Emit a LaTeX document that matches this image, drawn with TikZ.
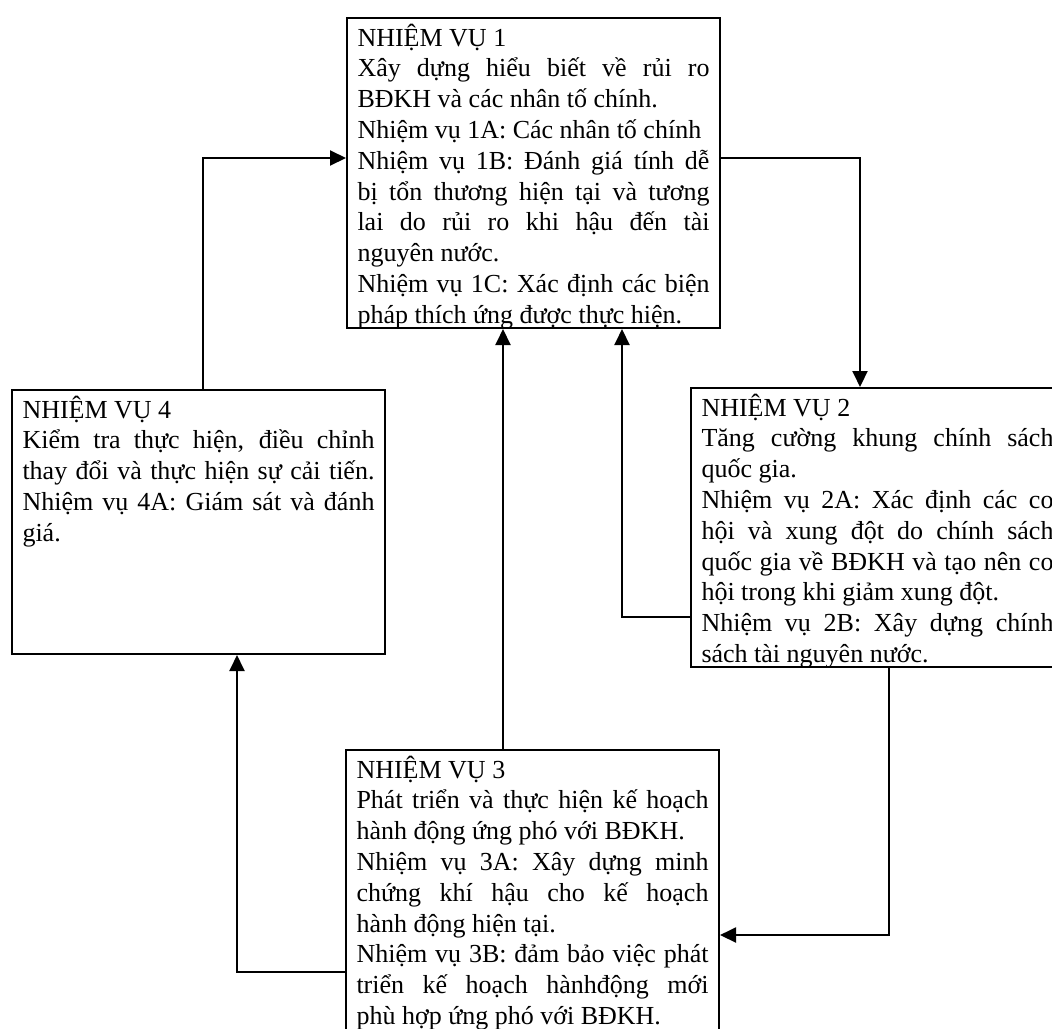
\documentclass[tikz,border=0pt]{standalone}
\usepackage{fontspec}
\setmainfont{Liberation Serif}
\usetikzlibrary{arrows.meta}
% one justified line / one natural-width line of a task box
\newcommand\fullln[1]{\hbox to\hsize{#1}}
\newcommand\lastln[1]{\hbox{#1}}
\newcommand\taskbody[1]{\parbox[t]{176pt}{\fontsize{13pt}{15.4pt}\selectfont #1}}
\begin{document}
\begin{tikzpicture}[x=0.5pt,y=-0.5pt,
  taskbox/.style={draw, line width=1pt, anchor=north west, inner xsep=5.25pt,
    inner ysep=2pt, text height=12pt},
  arr/.style={line width=1pt, -{Triangle[length=8pt,width=7.5pt]}}]
\useasboundingbox (0,0) rectangle (1052,1028);
\clip (0,0) rectangle (1052,1028);

\node[taskbox, text depth=139pt] (b1) at (346,17) {\taskbody{%
\lastln{NHIỆM VỤ 1}
\fullln{Xây dựng hiểu biết về rủi ro}
\lastln{BĐKH và các nhân tố chính.}
\lastln{Nhiệm vụ 1A: Các nhân tố chính}
\fullln{Nhiệm vụ 1B: Đánh giá tính dễ}
\fullln{bị tổn thương hiện tại và tương}
\fullln{lai do rủi ro khi hậu đến tài}
\lastln{nguyên nước.}
\fullln{Nhiệm vụ 1C: Xác định các biện}
\lastln{pháp thích ứng được thực hiện.}}};

\node[taskbox, text depth=123.5pt] (b2) at (690,387) {\taskbody{%
\lastln{NHIỆM VỤ 2}
\fullln{Tăng cường khung chính sách}
\lastln{quốc gia.}
\fullln{Nhiệm vụ 2A: Xác định các co}
\fullln{hội và xung đột do chính sách}
\fullln{quốc gia về BĐKH và tạo nên co}
\lastln{hội trong khi giảm xung đột.}
\fullln{Nhiệm vụ 2B: Xây dựng chính}
\lastln{sách tài nguyên nước.}}};

\node[taskbox, text depth=140pt] (b3) at (345,749) {\taskbody{%
\lastln{NHIỆM VỤ 3}
\fullln{Phát triển và thực hiện kế hoạch}
\lastln{hành động ứng phó với BĐKH.}
\fullln{Nhiệm vụ 3A: Xây dựng minh}
\fullln{chứng khí hậu cho kế hoạch}
\lastln{hành động hiện tại.}
\fullln{Nhiệm vụ 3B: đảm bảo việc phát}
\fullln{triển kế hoạch hànhđộng mới}
\lastln{phù hợp ứng phó với BĐKH.}}};

\node[taskbox, text depth=116pt] (b4) at (11,389) {\taskbody{%
\lastln{NHIỆM VỤ 4}
\fullln{Kiểm tra thực hiện, điều chỉnh}
\fullln{thay đổi và thực hiện sự cải tiến.}
\fullln{Nhiệm vụ 4A: Giám sát và đánh}
\lastln{giá.}}};

% cycle of tasks
\draw[arr] (b1.east |- 0,158) -| (b2.north -| 860,0);
\draw[arr] (b2.west |- 0,617) -| (b1.south -| 622,0);
\draw[arr] (b2.south -| 889,0) |- (b3.east |- 0,935);
\draw[arr] (b3.north -| 503,0) -- (b1.south -| 503,0);
\draw[arr] (b3.west |- 0,972) -| (b4.south -| 237,0);
\draw[arr] (b4.north -| 203,0) |- (b1.west |- 0,158);
\end{tikzpicture}
\end{document}
